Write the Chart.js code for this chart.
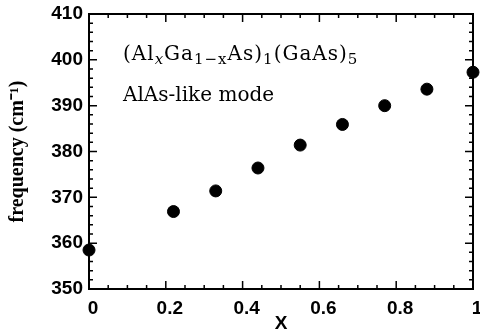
<!DOCTYPE html>
<html>
<head>
<meta charset="utf-8">
<script src="https://cdn.jsdelivr.net/npm/chart.js@4/dist/chart.umd.min.js"></script>
<style>
  html, body { margin: 0; padding: 0; background: #fff; }
  #wrap { width: 480px; height: 333px; }
</style>
</head>
<body>
<div id="wrap"><canvas id="chart" width="480" height="333"></canvas></div>
<script>
// Al content x and AlAs-like mode frequency (cm^-1)
const xValues = [0.0, 0.22, 0.33, 0.44, 0.55, 0.66, 0.77, 0.88, 1.0];
const freqValues = [358.5, 366.9, 371.4, 376.4, 381.4, 385.9, 390.0, 393.6, 397.3];

const xTicks = [0, 0.2, 0.4, 0.6, 0.8, 1];
const yTicks = [350, 360, 370, 380, 390, 400, 410];
const xMinorStep = 0.05;
const yMinorStep = 2;

const label1 = [
  { t: '(Al' }, { t: 'x', sub: true, it: true }, { t: 'Ga' }, { t: '1\u2212x', sub: true },
  { t: 'As)' }, { t: '1', sub: true }, { t: '(GaAs)' }, { t: '5', sub: true }
];
const label2 = 'AlAs-like mode';

const points = xValues.map((x, i) => ({ x, y: freqValues[i] }));

// frame + inward ticks on all four sides, plus the composition label
const framePlugin = {
  id: 'frame',
  afterDraw(chart) {
    const { ctx, chartArea: a, scales } = chart;
    const sx = scales.x, sy = scales.y;
    ctx.save();
    ctx.strokeStyle = '#000';
    ctx.lineWidth = 2;
    ctx.strokeRect(a.left, a.top, a.right - a.left, a.bottom - a.top);

    ctx.lineWidth = 1.5;
    ctx.beginPath();
    for (let v = sx.min; v <= sx.max + 1e-9; v += xMinorStep) {
      const px = sx.getPixelForValue(v);
      const major = xTicks.some(t => Math.abs(t - v) < 1e-6);
      const len = major ? 8 : 4;
      ctx.moveTo(px, a.bottom); ctx.lineTo(px, a.bottom - len);
      ctx.moveTo(px, a.top); ctx.lineTo(px, a.top + len);
    }
    for (let v = sy.min; v <= sy.max + 1e-9; v += yMinorStep) {
      const py = sy.getPixelForValue(v);
      const major = yTicks.includes(Math.round(v)) && Math.round(v) % 10 === 0;
      const len = major ? 8 : 4;
      ctx.moveTo(a.left, py); ctx.lineTo(a.left + len, py);
      ctx.moveTo(a.right, py); ctx.lineTo(a.right - len, py);
    }
    ctx.stroke();

    // text labels
    ctx.fillStyle = '#000';
    ctx.textBaseline = 'alphabetic';
    ctx.letterSpacing = '1px';
    let x = a.left + 34;
    const base1 = a.top + 46;
    label1.forEach(seg => {
      const size = seg.sub ? 15 : 20;
      ctx.font = (seg.it ? 'italic ' : '') + size + 'px "DejaVu Serif"';
      ctx.fillText(seg.t, x, base1 + (seg.sub ? 4 : 0));
      x += ctx.measureText(seg.t).width;
    });
    ctx.letterSpacing = '0px';
    ctx.font = '20px "DejaVu Serif"';
    ctx.fillText(label2, a.left + 34, a.top + 87);
    ctx.restore();
  }
};

new Chart(document.getElementById('chart'), {
  type: 'scatter',
  data: {
    datasets: [{
      data: points,
      backgroundColor: '#000',
      borderColor: '#000',
      pointRadius: 6,
      pointHoverRadius: 6,
      clip: false
    }]
  },
  options: {
    responsive: false,
    animation: false,
    events: [],
    layout: { padding: { top: 14, right: 5, left: 0, bottom: 0 } },
    plugins: { legend: { display: false }, tooltip: { enabled: false } },
    scales: {
      x: {
        type: 'linear',
        min: 0,
        max: 1,
        afterBuildTicks: s => { s.ticks = xTicks.map(v => ({ value: v })); },
        afterFit: s => { s.height = 44; s.paddingLeft = 0; s.paddingRight = 0; },
        grid: { display: false, drawTicks: false },
        border: { display: false },
        ticks: {
          color: '#000',
          padding: 8,
          labelOffset: 4,
          maxRotation: 0,
          font: { family: 'Liberation Sans', size: 19, weight: 'bold' },
          callback: v => String(v)
        },
        title: {
          display: true,
          text: 'X',
          color: '#000',
          padding: { top: 0, bottom: 0 },
          font: { family: 'Liberation Sans', size: 19, weight: 'bold', lineHeight: 1 }
        }
      },
      y: {
        min: 350,
        max: 410,
        afterBuildTicks: s => { s.ticks = yTicks.map(v => ({ value: v })); },
        afterFit: s => { s.width = 89; s.paddingTop = 0; s.paddingBottom = 0; },
        grid: { display: false, drawTicks: false },
        border: { display: false },
        ticks: {
          color: '#000',
          padding: 6,
          font: { family: 'Liberation Sans', size: 19, weight: 'bold' }
        },
        title: {
          display: true,
          text: 'frequency (cm\u207B\u00B9)',
          color: '#000',
          padding: { top: 8, bottom: 0 },
          font: { family: 'Liberation Serif', size: 20, weight: 'bold', lineHeight: 1 }
        }
      }
    }
  },
  plugins: [framePlugin]
});
</script>
</body>
</html>
